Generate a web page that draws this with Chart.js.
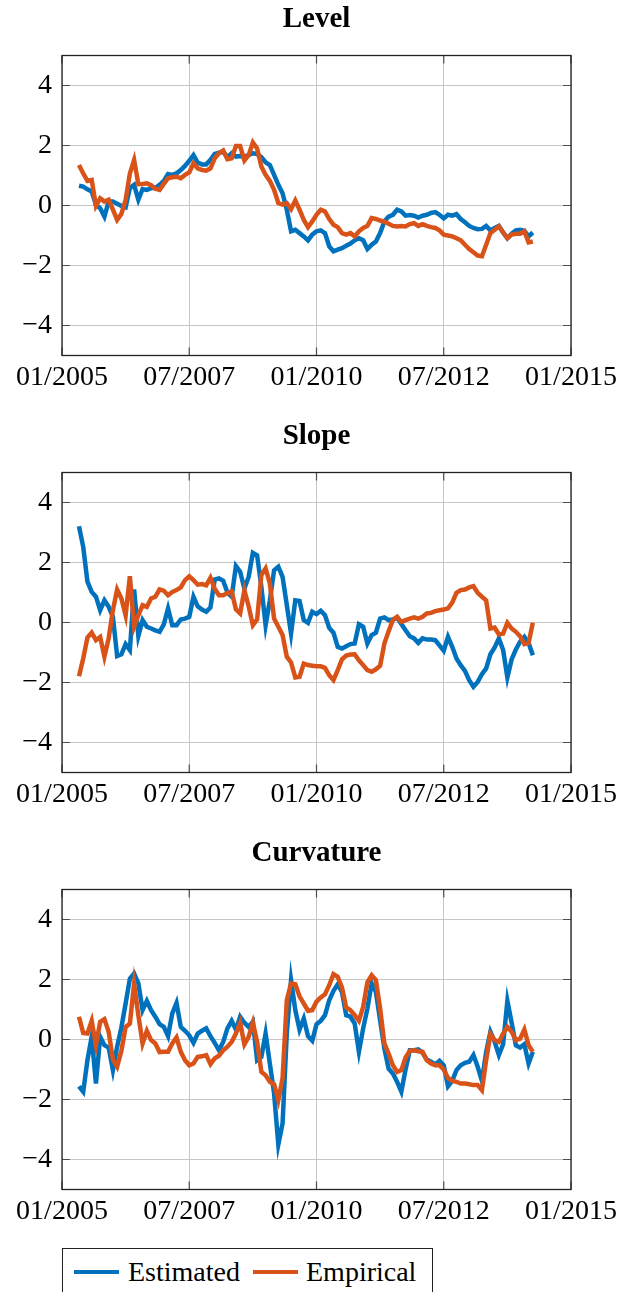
<!DOCTYPE html>
<html>
<head>
<meta charset="utf-8">
<title>Level, Slope and Curvature</title>
<script src="https://cdn.jsdelivr.net/npm/chart.js@4.4.1/dist/chart.umd.min.js"></script>
<style>
  html, body { margin: 0; padding: 0; background: #ffffff; }
  body { width: 630px; height: 1292px; position: relative; overflow: hidden;
         font-family: "Liberation Serif", "Times New Roman", serif; }
  .panel { position: absolute; left: 0; width: 630px; height: 417px; }
  #legend { position: absolute; left: 62px; top: 1248px; width: 371px; height: 46px;
            box-sizing: border-box; border: 1.3px solid #222; background: #fff; }
  #legend .swatch { position: absolute; top: 20.5px; width: 45px; height: 4.5px; }
  #legend .label { position: absolute; top: 1px; line-height: 44px; font-size: 28px; color: #000; white-space: nowrap; }
</style>
</head>
<body>
<canvas id="levelChart" class="panel" width="630" height="417" style="top:0px"></canvas>
<canvas id="slopeChart" class="panel" width="630" height="417" style="top:417px"></canvas>
<canvas id="curvatureChart" class="panel" width="630" height="417" style="top:834px"></canvas>
<div id="legend"></div>

<script>
// Monthly observations, May 2005 to April 2014
const months = [
  '2005-05','2005-06','2005-07','2005-08','2005-09','2005-10','2005-11','2005-12',
  '2006-01','2006-02','2006-03','2006-04','2006-05','2006-06','2006-07','2006-08','2006-09','2006-10','2006-11','2006-12',
  '2007-01','2007-02','2007-03','2007-04','2007-05','2007-06','2007-07','2007-08','2007-09','2007-10','2007-11','2007-12',
  '2008-01','2008-02','2008-03','2008-04','2008-05','2008-06','2008-07','2008-08','2008-09','2008-10','2008-11','2008-12',
  '2009-01','2009-02','2009-03','2009-04','2009-05','2009-06','2009-07','2009-08','2009-09','2009-10','2009-11','2009-12',
  '2010-01','2010-02','2010-03','2010-04','2010-05','2010-06','2010-07','2010-08','2010-09','2010-10','2010-11','2010-12',
  '2011-01','2011-02','2011-03','2011-04','2011-05','2011-06','2011-07','2011-08','2011-09','2011-10','2011-11','2011-12',
  '2012-01','2012-02','2012-03','2012-04','2012-05','2012-06','2012-07','2012-08','2012-09','2012-10','2012-11','2012-12',
  '2013-01','2013-02','2013-03','2013-04','2013-05','2013-06','2013-07','2013-08','2013-09','2013-10','2013-11','2013-12',
  '2014-01','2014-02','2014-03','2014-04'
];

const levelEstimated = [
  0.66, 0.63, 0.54, 0.47, 0.02, -0.09, -0.37, 0.13, 0.13, 0.06, -0.01, -0.06, 0.58, 0.69, 0.19, 0.55, 0.52, 0.58, 0.58,
  0.69, 0.82, 1.05, 1.02, 1.07, 1.18, 1.32, 1.49, 1.68, 1.43, 1.37, 1.37, 1.52, 1.72, 1.76, 1.79, 1.61, 1.74, 1.63,
  1.65, 1.63, 1.68, 1.74, 1.72, 1.61, 1.44, 1.35, 1.02, 0.69, 0.41, -0.14, -0.86, -0.81, -0.92, -1.03, -1.16, -0.97, -0.86, -0.83,
  -0.92, -1.36, -1.53, -1.47, -1.42, -1.34, -1.27, -1.16, -1.09, -1.16, -1.45, -1.31, -1.20, -0.92, -0.53, -0.37, -0.31, -0.14, -0.20,
  -0.34, -0.32, -0.34, -0.40, -0.34, -0.31, -0.25, -0.22, -0.31, -0.43, -0.31, -0.34, -0.29, -0.45, -0.56, -0.68,
  -0.75, -0.79, -0.78, -0.68, -0.83, -0.75, -0.68, -0.90, -1.09, -0.94, -0.83, -0.81, -0.84, -1.03, -0.90
];
const levelEmpirical = [
  1.35, 1.07, 0.82, 0.85, -0.01, 0.24, 0.13, 0.19, -0.14, -0.48, -0.28, 0.19, 1.07, 1.52, 0.71, 0.72, 0.74, 0.68, 0.56,
  0.52, 0.72, 0.91, 0.94, 0.96, 0.91, 1.02, 1.10, 1.41, 1.24, 1.18, 1.16, 1.24, 1.57, 1.74, 1.83, 1.54, 1.57, 1.98,
  1.98, 1.50, 1.68, 2.10, 1.90, 1.30, 1.02, 0.82, 0.52, 0.08, 0.03, 0.08, -0.12, 0.17, -0.14, -0.48, -0.72, -0.53, -0.31, -0.14,
  -0.20, -0.45, -0.64, -0.72, -0.92, -0.97, -0.92, -1.03, -0.86, -0.75, -0.68, -0.42, -0.45, -0.50, -0.54, -0.61, -0.68, -0.70, -0.68,
  -0.70, -0.62, -0.59, -0.68, -0.62, -0.68, -0.72, -0.75, -0.83, -0.97, -1.00, -1.03, -1.09, -1.16, -1.31, -1.45,
  -1.56, -1.67, -1.69, -1.31, -0.92, -0.81, -0.70, -0.90, -1.09, -0.97, -0.94, -0.94, -0.86, -1.23, -1.20
];

const slopeEstimated = [
  3.21, 2.52, 1.36, 1.02, 0.86, 0.41, 0.74, 0.52, 0.19, -1.12, -1.06, -0.72, -0.92, 1.10, -0.45, 0.08, -0.14, -0.20, -0.26,
  -0.31, -0.06, 0.47, -0.09, -0.09, 0.10, 0.13, 0.19, 0.86, 0.54, 0.43, 0.36, 0.50, 1.43, 1.47, 1.39, 1.00, 0.86, 1.88,
  1.69, 1.13, 1.52, 2.32, 2.24, 1.19, -0.09, 0.74, 1.74, 1.86, 1.52, 0.58, -0.37, 0.74, 0.72, 0.08, -0.01, 0.36, 0.28, 0.39,
  0.24, -0.18, -0.34, -0.81, -0.87, -0.79, -0.72, -0.70, -0.06, -0.14, -0.70, -0.42, -0.34, 0.13, 0.17, 0.08, 0.10, 0.17, -0.05,
  -0.26, -0.46, -0.53, -0.68, -0.53, -0.57, -0.57, -0.59, -0.76, -0.94, -0.48, -0.81, -1.20, -1.42, -1.61, -1.92,
  -2.14, -1.98, -1.72, -1.53, -1.06, -0.83, -0.53, -0.92, -1.83, -1.23, -0.90, -0.64, -0.48, -0.68, -1.09
];
const slopeEmpirical = [
  -1.79, -1.20, -0.50, -0.34, -0.59, -0.48, -1.14, -0.53, 0.41, 1.10, 0.80, 0.24, 1.54, -0.14, 0.24, 0.58, 0.52, 0.80, 0.86,
  1.10, 1.06, 0.91, 1.02, 1.08, 1.17, 1.41, 1.54, 1.41, 1.26, 1.28, 1.24, 1.49, 1.13, 0.91, 0.91, 0.98, 1.04, 0.44,
  0.30, 1.08, 0.54, -0.09, 0.10, 1.58, 1.80, 1.30, 0.13, -0.14, -0.42, -1.14, -1.33, -1.83, -1.81, -1.37, -1.42, -1.44, -1.46, -1.46,
  -1.51, -1.76, -1.92, -1.59, -1.23, -1.10, -1.07, -1.06, -1.26, -1.42, -1.59, -1.64, -1.56, -1.44, -0.70, -0.29, 0.08, 0.19, 0.02,
  0.08, 0.13, 0.17, 0.13, 0.19, 0.30, 0.32, 0.38, 0.41, 0.43, 0.47, 0.66, 0.99, 1.08, 1.10, 1.17,
  1.21, 0.99, 0.86, 0.74, -0.20, -0.17, -0.40, -0.37, -0.01, -0.20, -0.31, -0.46, -0.72, -0.68, -0.01
];

const curvatureEstimated = [
  -1.56, -1.74, -0.69, 0.09, -1.47, 0.09, -0.19, -0.27, -1.02, -0.24, 0.40, 1.20, 2.03, 2.20, 1.87, 0.98, 1.29, 0.98, 0.76,
  0.51, 0.42, 0.11, 0.87, 1.22, 0.42, 0.29, 0.14, -0.11, 0.20, 0.29, 0.37, 0.11, -0.11, -0.36, -0.08, 0.37, 0.62, 0.33,
  0.76, 0.56, 0.42, 0.59, -0.69, -0.58, 0.20, -0.80, -1.80, -3.50, -2.80, 0.20, 1.98, 0.98, 0.33, 0.70, 0.11, -0.04, 0.51, 0.62,
  0.81, 1.31, 1.62, 1.84, 1.59, 0.81, 0.76, 0.53, -0.41, 0.37, 1.03, 1.87, 1.59, 0.64, -0.30, -0.97, -1.13, -1.41, -1.74,
  -1.00, -0.36, -0.36, -0.33, -0.44, -0.67, -0.74, -0.83, -0.71, -0.86, -1.56, -1.38, -1.02, -0.86, -0.78, -0.74,
  -0.52, -0.91, -1.38, -0.41, 0.26, -0.08, -0.52, -0.16, 1.29, 0.56, -0.19, -0.27, -0.16, -0.80, -0.41
];
const curvatureEmpirical = [
  0.76, 0.22, 0.20, 0.62, -0.19, 0.59, 0.68, 0.26, -0.67, -0.91, -0.38, 0.42, 0.53, 1.85, 0.81, -0.13, 0.29, -0.02, -0.13,
  -0.42, -0.41, -0.41, -0.13, 0.07, -0.41, -0.69, -0.86, -0.80, -0.58, -0.56, -0.52, -0.82, -0.63, -0.54, -0.36, -0.24, -0.08, 0.20,
  0.56, -0.16, 0.09, 0.56, -0.08, -1.08, -1.19, -1.41, -1.49, -2.02, -1.30, 1.31, 1.87, 1.84, 1.44, 1.20, 0.96, 0.98, 1.26, 1.40,
  1.51, 1.81, 2.18, 2.09, 1.74, 1.07, 0.98, 0.81, 0.62, 1.09, 1.91, 2.14, 1.98, 1.03, -0.13, -0.47, -0.86, -1.08, -1.02,
  -0.60, -0.38, -0.36, -0.39, -0.41, -0.69, -0.80, -0.86, -0.86, -1.00, -1.28, -1.38, -1.41, -1.47, -1.47, -1.49,
  -1.52, -1.52, -1.69, -0.69, 0.18, -0.02, -0.08, 0.20, 0.42, 0.26, -0.02, 0.03, 0.33, -0.19, -0.41
];

// Axis ticks: months counted from January 2005
const xTickMonths = [0, 30, 60, 90, 120];
const xTickLabels = ['01/2005', '07/2007', '01/2010', '07/2012', '01/2015'];
const yTickValues = [-4, -2, 0, 2, 4];
const seriesNames = ['Estimated', 'Empirical'];

const BLUE = '#0072BD';
const ORANGE = '#D95319';
const SERIF = '"Liberation Serif", "Times New Roman", serif';

function monthIndex(label) {
  const [y, m] = label.split('-').map(Number);
  return (y - 2005) * 12 + (m - 1);
}
function toPoints(values) {
  return values.map((v, i) => ({ x: monthIndex(months[i]), y: v }));
}

// pgfplots-style box around the plot area with inward tick marks on every side
const boxAxes = {
  id: 'boxAxes',
  afterDraw(chart) {
    const { ctx, chartArea: a, scales } = chart;
    const L = 8;
    ctx.save();
    ctx.strokeStyle = '#4d4d4d';
    ctx.lineWidth = 1.2;
    ctx.beginPath();
    scales.x.ticks.forEach(t => {
      const px = scales.x.getPixelForValue(t.value);
      ctx.moveTo(px, a.bottom); ctx.lineTo(px, a.bottom - L);
      ctx.moveTo(px, a.top); ctx.lineTo(px, a.top + L);
    });
    scales.y.ticks.forEach(t => {
      const py = scales.y.getPixelForValue(t.value);
      ctx.moveTo(a.left, py); ctx.lineTo(a.left + L, py);
      ctx.moveTo(a.right, py); ctx.lineTo(a.right - L, py);
    });
    ctx.stroke();
    ctx.strokeStyle = '#222222';
    ctx.lineWidth = 1.3;
    ctx.strokeRect(a.left, a.top, a.right - a.left, a.bottom - a.top);
    ctx.restore();
  }
};

function makePanel(canvasId, title, estimated, empirical) {
  return new Chart(document.getElementById(canvasId), {
    type: 'line',
    data: {
      datasets: [
        { label: seriesNames[0], data: toPoints(estimated), borderColor: BLUE, backgroundColor: BLUE,
          borderWidth: 4.5, pointRadius: 0, tension: 0, fill: false, order: 1 },
        { label: seriesNames[1], data: toPoints(empirical), borderColor: ORANGE, backgroundColor: ORANGE,
          borderWidth: 4.5, pointRadius: 0, tension: 0, fill: false, order: 0 }
      ]
    },
    options: {
      responsive: false,
      animation: false,
      devicePixelRatio: 1,
      layout: { padding: { left: 0, right: 59, top: 0, bottom: 0 } },
      plugins: {
        legend: { display: false },
        tooltip: { enabled: false },
        title: {
          display: true, text: title, color: '#000', fullSize: false,
          font: { family: SERIF, size: 29, weight: 'bold', lineHeight: 1.2 },
          padding: { top: 2.5, bottom: 18.2 }
        }
      },
      scales: {
        x: {
          type: 'linear', min: 0, max: 120,
          afterBuildTicks: s => { s.ticks = xTickMonths.map(v => ({ value: v })); },
          afterFit: s => { s.height = 61.5; },
          ticks: {
            color: '#000', font: { family: SERIF, size: 28 }, padding: 5, maxRotation: 0,
            callback: v => xTickLabels[xTickMonths.indexOf(v)]
          },
          grid: { color: '#c6c6c6', lineWidth: 1, drawTicks: false },
          border: { display: false }
        },
        y: {
          type: 'linear', min: -5, max: 5,
          afterBuildTicks: s => { s.ticks = yTickValues.map(v => ({ value: v })); },
          afterFit: s => { s.width = 62; },
          ticks: {
            color: '#000', font: { family: SERIF, size: 28 }, padding: 10,
            callback: v => (v < 0 ? '\u2212' + Math.abs(v) : String(v))
          },
          grid: { color: '#c6c6c6', lineWidth: 1, drawTicks: false },
          border: { display: false }
        }
      }
    },
    plugins: [boxAxes]
  });
}

makePanel('levelChart', 'Level', levelEstimated, levelEmpirical);
makePanel('slopeChart', 'Slope', slopeEstimated, slopeEmpirical);
makePanel('curvatureChart', 'Curvature', curvatureEstimated, curvatureEmpirical);

// Shared legend below the three panels
const legend = document.getElementById('legend');
const legendItems = [
  { name: seriesNames[0], color: BLUE, swatchLeft: 11, textLeft: 65 },
  { name: seriesNames[1], color: ORANGE, swatchLeft: 190, textLeft: 243 }
];
legendItems.forEach(item => {
  const sw = document.createElement('span');
  sw.className = 'swatch';
  sw.style.left = item.swatchLeft + 'px';
  sw.style.background = item.color;
  legend.appendChild(sw);
  const tx = document.createElement('span');
  tx.className = 'label';
  tx.style.left = item.textLeft + 'px';
  tx.textContent = item.name;
  legend.appendChild(tx);
});
</script>
</body>
</html>
